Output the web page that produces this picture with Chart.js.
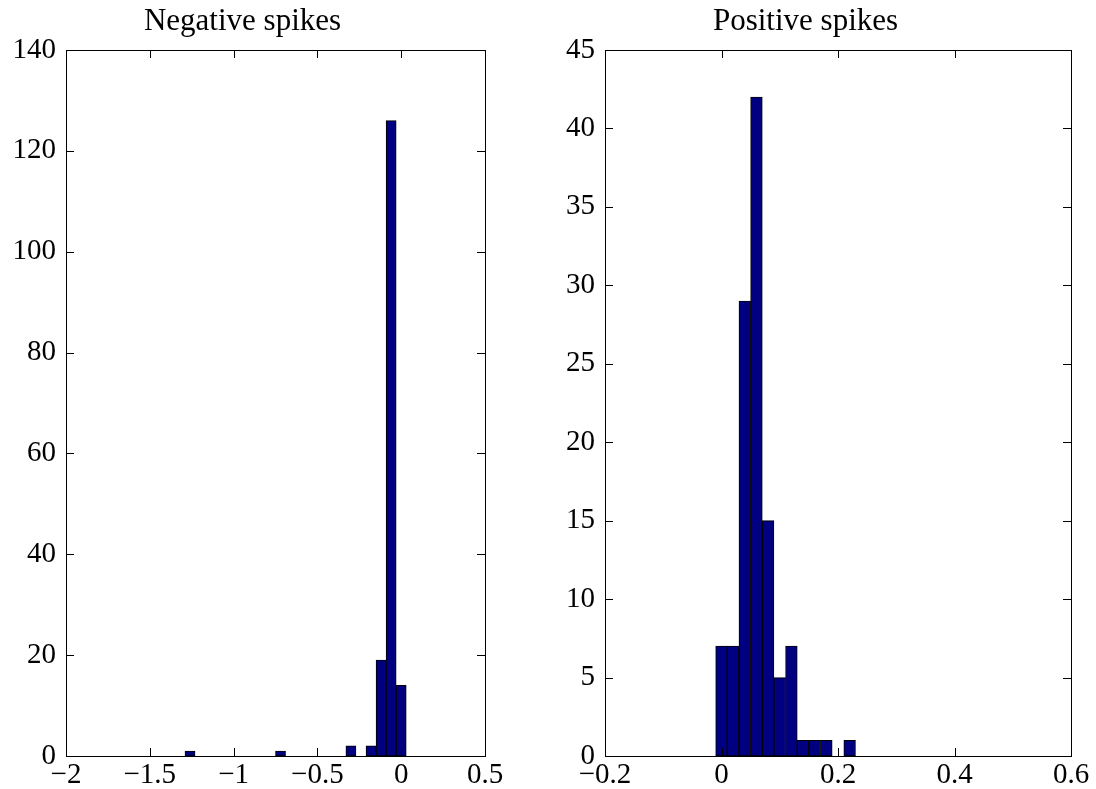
<!DOCTYPE html>
<html>
<head>
<meta charset="utf-8">
<script src="https://cdn.jsdelivr.net/npm/chart.js@4/dist/chart.umd.min.js"></script>
<style>
  html, body { margin: 0; padding: 0; background: #fff; }
  #wrap { position: relative; width: 1096px; height: 789px; }
  .box { position: absolute; top: 0; height: 789px; }
  #negBox { left: 0; width: 540px; }
  #posBox { left: 540px; width: 556px; }
</style>
</head>
<body>
<div id="wrap">
  <div class="box" id="negBox"><canvas id="negChart"></canvas></div>
  <div class="box" id="posBox"><canvas id="posChart"></canvas></div>
</div>
<script>
// histogram bins (bin centres) and counts
const negCenters = [-1.26, -0.72, -0.30, -0.18, -0.12, -0.06, 0.0];
const negCounts = [1, 1, 2, 2, 19, 126, 14];
const negXTicks = [-2, -1.5, -1, -0.5, 0, 0.5];
const negYTicks = [0, 20, 40, 60, 80, 100, 120, 140];

const posCenters = [0.0, 0.02, 0.04, 0.06, 0.08, 0.10, 0.12, 0.14, 0.16, 0.18, 0.22];
const posCounts = [7, 7, 29, 42, 15, 5, 7, 1, 1, 1, 1];
const posXTicks = [-0.2, 0, 0.2, 0.4, 0.6];
const posYTicks = [0, 5, 10, 15, 20, 25, 30, 35, 40, 45];

const FONT = "'Liberation Serif', 'DejaVu Serif', serif";
const BAR_COLOR = '#000080';

function fmt(v) {
  const s = String(Math.round(v * 1000) / 1000);
  return s.replace('-', '\u2212');
}

// frame + inward ticks on all four sides, like classic matplotlib
const frameTicks = {
  id: 'frameTicks',
  afterDatasetsDraw(chart) {
    const { ctx, chartArea: a, scales: { x, y } } = chart;
    const len = 8;
    ctx.save();
    ctx.strokeStyle = '#000';
    ctx.lineWidth = 1;
    ctx.beginPath();
    x.ticks.forEach(t => {
      const px = Math.round(x.getPixelForValue(t.value)) + 0.5;
      ctx.moveTo(px, a.bottom); ctx.lineTo(px, a.bottom - len);
      ctx.moveTo(px, a.top); ctx.lineTo(px, a.top + len);
    });
    y.ticks.forEach(t => {
      const py = Math.round(y.getPixelForValue(t.value)) + 0.5;
      ctx.moveTo(a.left, py); ctx.lineTo(a.left + len, py);
      ctx.moveTo(a.right, py); ctx.lineTo(a.right - len, py);
    });
    ctx.stroke();
    ctx.strokeRect(Math.round(a.left) + 0.5, Math.round(a.top) + 0.5,
      Math.round(a.right - a.left), Math.round(a.bottom - a.top));
    ctx.restore();
  }
};

function makeHist(id, title, centers, counts, xTicks, yTicks, yWidth, padRight) {
  return new Chart(document.getElementById(id), {
    type: 'bar',
    data: {
      datasets: [{
        data: centers.map((c, i) => ({ x: c, y: counts[i] })),
        backgroundColor: BAR_COLOR,
        borderColor: '#000',
        borderWidth: 1,
        borderSkipped: false,
        barPercentage: 1,
        categoryPercentage: 1,
      }],
    },
    options: {
      responsive: true,
      maintainAspectRatio: false,
      animation: false,
      layout: { padding: { left: 0, right: padRight, top: 0, bottom: 0 } },
      plugins: {
        legend: { display: false },
        tooltip: { enabled: false },
        title: {
          display: true,
          text: title,
          color: '#000',
          font: { family: FONT, size: 31, weight: 'normal', lineHeight: 1.2 },
          padding: { top: 3, bottom: 9.8 },
        },
      },
      scales: {
        x: {
          type: 'linear',
          offset: false,
          min: xTicks[0],
          max: xTicks[xTicks.length - 1],
          afterBuildTicks: s => { s.ticks = xTicks.map(v => ({ value: v })); },
          afterFit: s => { s.height = 33; },
          grid: { display: false, drawTicks: false, offset: false },
          border: { display: false },
          ticks: {
            color: '#000',
            padding: 2,
            maxRotation: 0,
            autoSkip: false,
            font: { family: FONT, size: 29 },
            callback: v => fmt(v),
          },
        },
        y: {
          min: yTicks[0],
          max: yTicks[yTicks.length - 1],
          afterBuildTicks: s => { s.ticks = yTicks.map(v => ({ value: v })); },
          afterFit: s => { s.width = yWidth; },
          grid: { display: false, drawTicks: false },
          border: { display: false },
          ticks: {
            color: '#000',
            padding: 10,
            autoSkip: false,
            font: { family: FONT, size: 29 },
            callback: v => fmt(v),
          },
        },
      },
    },
    plugins: [frameTicks],
  });
}

makeHist('negChart', 'Negative spikes', negCenters, negCounts, negXTicks, negYTicks, 66, 55);
makeHist('posChart', 'Positive spikes', posCenters, posCounts, posXTicks, posYTicks, 65, 25);
</script>
</body>
</html>
